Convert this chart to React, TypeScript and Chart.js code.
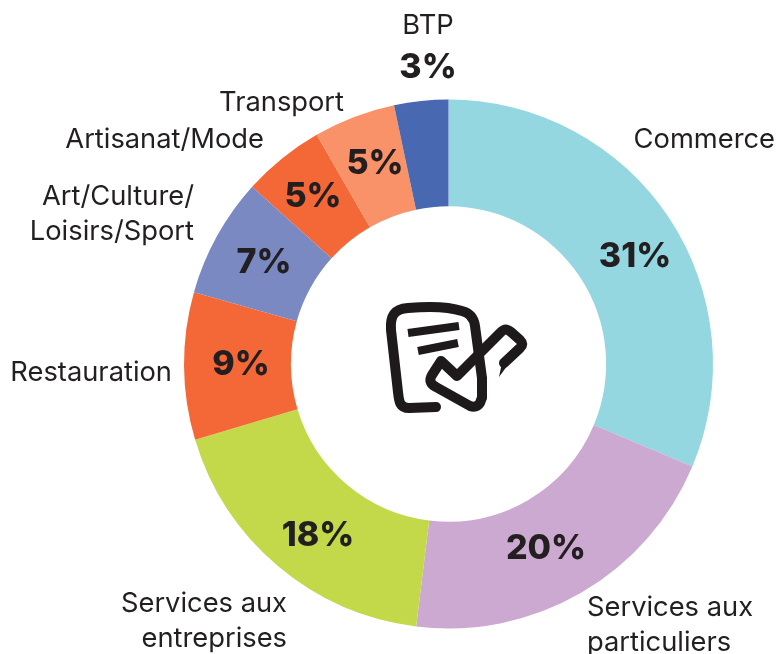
import React, { useEffect, useRef } from "react";
import { Chart, registerables } from "chart.js";

Chart.register(...registerables);

const categories = ["Commerce", "Services aux particuliers", "Services aux entreprises", "Restauration", "Art/Culture/Loisirs/Sport", "Artisanat/Mode", "Transport", "BTP"];
const arcShares = [31.3, 20.6, 18.4, 9.0, 7.3, 5.0, 5.0, 3.3];
const percentLabels = ["31%", "20%", "18%", "9%", "7%", "5%", "5%", "3%"];
const sliceColors = ["#94D7E0", "#CBA9D0", "#C3D94A", "#F46737", "#7A89C2", "#F46737", "#F99268", "#4868B1"];

// label anchors, in pixels of the page
const nameLayout = [
  { lines: ["Commerce"], x: 775, y: 140, align: "right" },
  { lines: ["Services aux", "particuliers"], x: 587, y: 608, align: "left" },
  { lines: ["Services aux", "entreprises"], x: 287, y: 604, align: "right" },
  { lines: ["Restauration"], x: 172, y: 373, align: "right" },
  { lines: ["Art/Culture/", "Loisirs/Sport"], x: 194, y: 197, align: "right" },
  { lines: ["Artisanat/Mode"], x: 264, y: 140, align: "right" },
  { lines: ["Transport"], x: 344, y: 103, align: "right" },
  { lines: ["BTP"], x: 428, y: 26, align: "center" },
];
const percentLayout: [number, number][] = [
  [635, 257], [546, 549], [318, 536], [241, 365], [264, 263], [313, 197], [375, 164], [428, 68],
];

const FONT = "Inter, 'Liberation Sans', sans-serif";
const INK = "#231F20";

const labelPlugin = {
  id: "labels",
  afterDatasetsDraw(chart: any) {
    const c = chart.ctx;
    c.save();
    c.fillStyle = INK;
    c.textBaseline = "middle";
    nameLayout.forEach((l) => {
      c.font = `400 27.3px ${FONT}`;
      c.textAlign = l.align;
      l.lines.forEach((t, i) => c.fillText(t, l.x, l.y + i * 34.5));
    });
    c.textAlign = "center";
    c.font = `800 34px ${FONT}`;
    percentLabels.forEach((t, i) => c.fillText(t, percentLayout[i][0], percentLayout[i][1]));

    // centre icon
    c.strokeStyle = "#1E1A1B";
    c.lineCap = "round";
    c.lineJoin = "round";
    c.lineWidth = 10;
    c.beginPath();
    c.moveTo(436, 407);
    c.lineTo(409, 408);
    c.bezierCurveTo(400, 408, 399, 402, 398, 392);
    c.lineTo(391, 330);
    c.bezierCurveTo(390, 316, 394, 309, 408, 308);
    c.bezierCurveTo(430, 306, 450, 307, 462, 311);
    c.bezierCurveTo(470, 313, 474, 318, 475, 326);
    c.lineTo(482, 378);
    c.lineTo(482, 398);
    c.stroke();
    c.beginPath();
    c.moveTo(441, 361);
    c.lineTo(432, 375);
    c.bezierCurveTo(429, 380, 430, 384, 436, 387);
    c.lineTo(470, 406);
    c.bezierCurveTo(476, 408, 480, 405, 481, 400);
    c.moveTo(441, 361);
    c.lineTo(457, 376);
    c.lineTo(500, 333);
    c.bezierCurveTo(505, 328, 507, 329, 511, 332);
    c.lineTo(520, 340);
    c.bezierCurveTo(523, 343, 523, 345, 520, 348);
    c.lineTo(504, 363);
    c.stroke();
    c.lineWidth = 8;
    c.lineCap = "butt";
    c.beginPath();
    c.moveTo(408, 333);
    c.lineTo(459, 326);
    c.moveTo(418, 351);
    c.lineTo(458, 343);
    c.stroke();
    c.fillStyle = "#1E1A1B";
    c.beginPath();
    c.moveTo(503, 358);
    c.lineTo(499, 377);
    c.lineTo(510, 362);
    c.closePath();
    c.fill();
    c.restore();
  },
};

export default function App() {
  const ref = useRef<HTMLCanvasElement>(null);
  useEffect(() => {
    document.body.style.margin = "0";
    const chart = new Chart(ref.current!, {
      type: "doughnut",
      data: {
        labels: categories,
        datasets: [{ data: arcShares, backgroundColor: sliceColors, borderWidth: 0 }],
      },
      options: {
        animation: false,
        responsive: false,
        cutout: "59.6%",
        layout: { padding: { left: 184, right: 66, top: 99.5, bottom: 25.5 } },
        plugins: { legend: { display: false }, tooltip: { enabled: false } },
      },
      plugins: [labelPlugin],
    } as any);
    return () => chart.destroy();
  }, []);
  return <canvas ref={ref} width={779} height={654} style={{ display: "block" }} />;
}
